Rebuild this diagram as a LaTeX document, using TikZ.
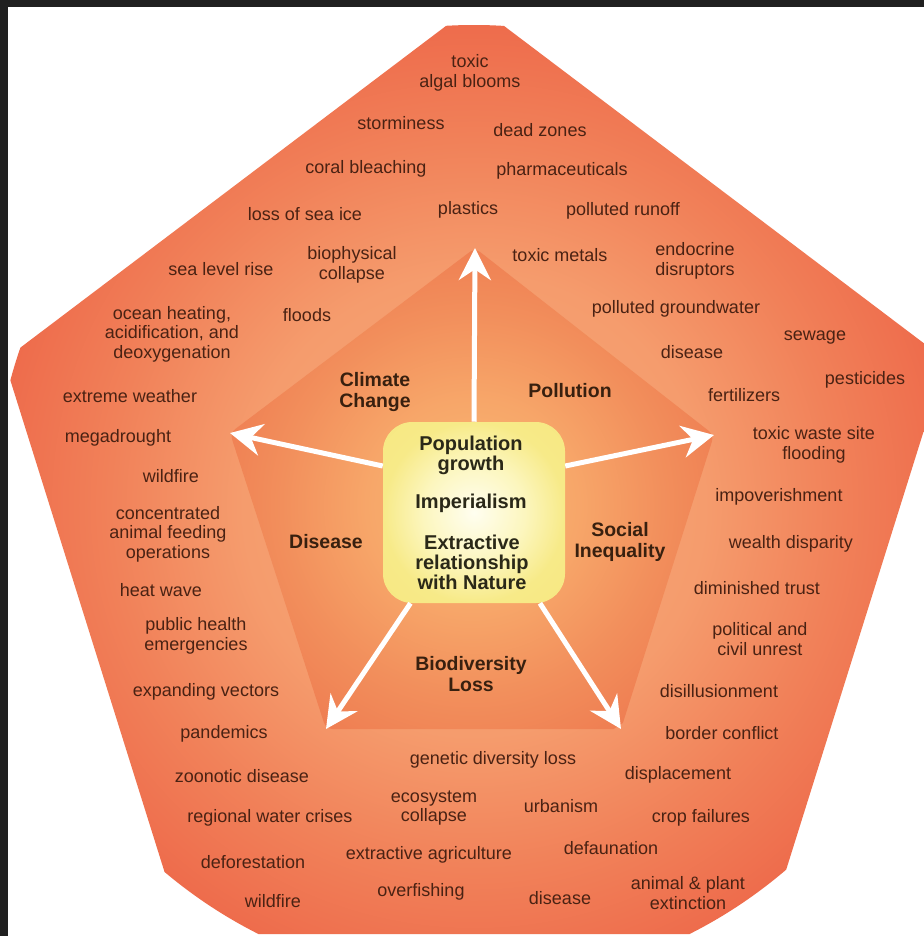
\documentclass[tikz,border=0pt]{standalone}
\usepackage{fontspec}
\setmainfont{Liberation Sans}
\usetikzlibrary{arrows.meta}
\definecolor{darkbg}{HTML}{202020}
\definecolor{txt}{HTML}{4A2213}
\definecolor{hdtxt}{HTML}{38200F}
\definecolor{ctxt}{HTML}{2A2818}
\definecolor{op0}{HTML}{F8AA78}
\definecolor{op1}{HTML}{F59C6D}
\definecolor{op2}{HTML}{F18159}
\definecolor{op3}{HTML}{EE6C4C}
\definecolor{ip0}{HTML}{FABA74}
\definecolor{ip1}{HTML}{F7A669}
\definecolor{ip2}{HTML}{F28F5C}
\definecolor{ip3}{HTML}{EF7E52}
\definecolor{bx0}{HTML}{FFFEF0}
\definecolor{bx1}{HTML}{FCF6BE}
\definecolor{bx2}{HTML}{F7EA88}
\definecolor{bx3}{HTML}{F5E47A}
\pgfdeclareradialshading{outerpent}{\pgfpoint{0bp}{0bp}}{color(0bp)=(op0); color(12bp)=(op1); color(19bp)=(op2); color(25bp)=(op3); color(50bp)=(op3)}
\pgfdeclareradialshading{innerpent}{\pgfpoint{0bp}{0bp}}{color(0bp)=(ip0); color(10bp)=(ip1); color(18bp)=(ip2); color(25bp)=(ip3); color(50bp)=(ip3)}
\pgfdeclareradialshading{boxshade}{\pgfpoint{0bp}{0bp}}{color(0bp)=(bx0); color(14bp)=(bx1); color(25bp)=(bx2); color(50bp)=(bx3)}
\begin{document}
\begin{tikzpicture}[x=0.75pt,y=-0.75pt,
  lbl/.style={text=txt,font=\fontsize{13.5}{14.6}\selectfont,align=center,inner sep=0pt},
  hd/.style={text=hdtxt,font=\fontsize{14.6}{16}\selectfont\bfseries,align=center,inner sep=0pt},
  ctr/.style={text=ctxt,font=\fontsize{15}{15}\selectfont\bfseries,align=center,inner sep=0pt},
  arr/.style={white,line width=3.75pt,-{Stealth[length=24pt,width=24pt,inset=8pt]}}]
\useasboundingbox (0,0) rectangle (924,936);
\clip (0,0) rectangle (924,936);
\fill[darkbg] (0,0) rectangle (924,936);
\fill[white] (8,7) rectangle (924,936);
% outer pentagon
\coordinate (oT) at (475,4);
\coordinate (oR) at (946,360);
\coordinate (oBR) at (766,934);
\coordinate (oBL) at (184,934);
\coordinate (oL) at (4,360);
\begin{scope}
  \clip[rounded corners=11pt] (oT) -- (oR) -- (oBR) -- (oBL) -- (oL) -- cycle;
  \shade[shading=outerpent] (474,505) circle (480);
\end{scope}
% inner pentagon
\coordinate (iT) at (475,248);
\coordinate (iR) at (714,435);
\coordinate (iBR) at (621,729);
\coordinate (iBL) at (326,729);
\coordinate (iL) at (230,433);
\begin{scope}
  \clip[rounded corners=5pt] (iT) -- (iR) -- (iBR) -- (iBL) -- (iL) -- cycle;
  \shade[shading=innerpent] (472,505) circle (265);
\end{scope}
% centre box
\node[shade,shading=boxshade,rounded corners=22pt,minimum width=136.5pt,minimum height=135.75pt,inner sep=0pt] (box) at (474,512.5) {};
\draw[arr] (box.90) -- (iT);
\draw[arr] (box.153) -- (iL);
\draw[arr] (box.27) -- (iR);
\draw[arr] (box.235) -- (iBL);
\draw[arr] (box.306) -- (iBR);
% centre text
\node[ctr] (c1) at (471,455) {Population\\growth};
\node[ctr] (c2) at (471,503) {Imperialism};
\node[ctr] (c3) at (472,562) {Extractive\\relationship\\with Nature};
% inner headings
\node[hd] (h1) at (375,392) {Climate\\Change};
\node[hd] (h2) at (570,391) {Pollution};
\node[hd] (h3) at (326,542) {Disease};
\node[hd] (h4) at (620,542) {Social\\Inequality};
\node[hd] (h5) at (471,674) {Biodiversity\\Loss};
% outer labels
\node[lbl] (t1) at (470,73) {toxic\\algal blooms};
\node[lbl] (t2) at (401,123) {storminess};
\node[lbl] (t3) at (540,130) {dead zones};
\node[lbl] (t4) at (366,169) {coral bleaching};
\node[lbl] (t5) at (562,171) {pharmaceuticals};
\node[lbl] (t6) at (305,214) {loss of sea ice};
\node[lbl] (t7) at (468,210) {plastics};
\node[lbl] (t8) at (623,211) {polluted runoff};
\node[lbl] (t9) at (221,269) {sea level rise};
\node[lbl] (t10) at (352,265) {biophysical\\collapse};
\node[lbl] (t11) at (560,255) {toxic metals};
\node[lbl] (t12) at (695,261) {endocrine\\disruptors};
\node[lbl] (t13) at (676,309) {polluted groundwater};
\node[lbl] (t14) at (172,334) {ocean heating,\\acidification, and\\deoxygenation};
\node[lbl] (t15) at (307,315) {floods};
\node[lbl] (t16) at (815,338) {sewage};
\node[lbl] (t17) at (692,352) {disease};
\node[lbl] (t18) at (865,380) {pesticides};
\node[lbl] (t19) at (744,395) {fertilizers};
\node[lbl] (t20) at (130,396) {extreme weather};
\node[lbl] (t21) at (118,438) {megadrought};
\node[lbl] (t22) at (814,445) {toxic waste site\\flooding};
\node[lbl] (t23) at (171,476) {wildfire};
\node[lbl] (t24) at (779,497) {impoverishment};
\node[lbl] (t25) at (168,534) {concentrated\\animal feeding\\operations};
\node[lbl] (t26) at (791,544) {wealth disparity};
\node[lbl] (t27) at (161,590) {heat wave};
\node[lbl] (t28) at (757,588) {diminished trust};
\node[lbl] (t29) at (196,636) {public health\\emergencies};
\node[lbl] (t30) at (760,639) {political and\\civil unrest};
\node[lbl] (t31) at (206,692) {expanding vectors};
\node[lbl] (t32) at (719,691) {disillusionment};
\node[lbl] (t33) at (224,734) {pandemics};
\node[lbl] (t34) at (722,733) {border conflict};
\node[lbl] (t35) at (493,760) {genetic diversity loss};
\node[lbl] (t36) at (242,776) {zoonotic disease};
\node[lbl] (t37) at (678,775) {displacement};
\node[lbl] (t38) at (434,808) {ecosystem\\collapse};
\node[lbl] (t39) at (561,806) {urbanism};
\node[lbl] (t40) at (270,818) {regional water crises};
\node[lbl] (t41) at (701,818) {crop failures};
\node[lbl] (t42) at (253,862) {deforestation};
\node[lbl] (t43) at (429,855) {extractive agriculture};
\node[lbl] (t44) at (611,848) {defaunation};
\node[lbl] (t45) at (273,901) {wildfire};
\node[lbl] (t46) at (421,892) {overfishing};
\node[lbl] (t47) at (560,898) {disease};
\node[lbl] (t48) at (688,893) {animal \& plant\\extinction};
\end{tikzpicture}
\end{document}
